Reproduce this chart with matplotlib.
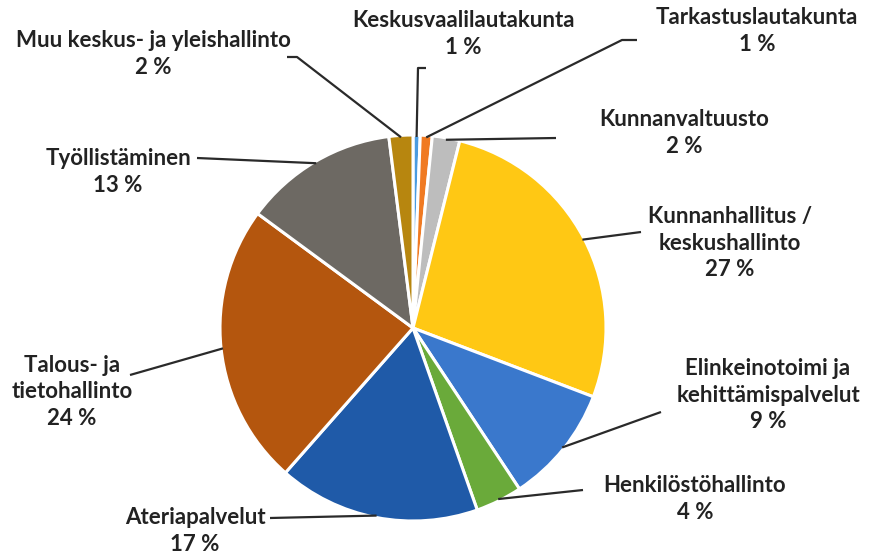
import matplotlib
matplotlib.use("Agg")
import numpy as np
import matplotlib.pyplot as plt

# shares, shown labels as printed
names = ["Keskusvaalilautakunta", "Tarkastuslautakunta", "Kunnanvaltuusto",
         "Kunnanhallitus /\nkeskushallinto", "Elinkeinotoimi ja\nkehittämispalvelut",
         "Henkilöstöhallinto", "Ateriapalvelut", "Talous- ja\ntietohallinto",
         "Työllistäminen", "Muu keskus- ja yleishallinto"]
shares = [0.6, 1.0, 2.3, 26.9, 9.9, 3.9, 16.9, 23.6, 12.9, 2.0]
shown_pct = [1, 1, 2, 27, 9, 4, 17, 24, 13, 2]
colors = ["#4a9be0", "#f07a22", "#bdbdbd", "#ffc814", "#3a78cc", "#6aaa3a",
          "#1f5aa8", "#b4560e", "#6d6963", "#b7860f"]

W, H = 881, 556
CX, CY, R = 413, 328, 193

# label centre (px) and leader path from text towards pie (px)
layout = [
    ((463, 34), [(426, 68), (418, 68)]),
    ((757, 31), [(637, 40), (622, 40)]),
    ((684, 133), [(556, 138)]),
    ((730, 243), [(641, 232)]),
    ((768, 395), [(661, 412)]),
    ((695, 499), [(583, 490)]),
    ((195, 531), [(270, 518)]),
    ((72, 392), [(130, 375)]),
    ((118, 172), [(197, 158)]),
    ((153, 54), [(287, 57), (297, 57)]),
]

fig = plt.figure(figsize=(W / 100, H / 100), dpi=100)
ax = fig.add_axes([0, 0, 1, 1])

wedges, _ = ax.pie(shares, colors=colors, startangle=90, counterclock=False,
                   center=(CX, H - CY), radius=R,
                   wedgeprops=dict(edgecolor="white", linewidth=2.2))
ax.set_xlim(0, W)
ax.set_ylim(0, H)
ax.set_aspect("equal")
ax.axis("off")

for w, name, pct, (tpos, path) in zip(wedges, names, shown_pct, layout):
    ang = np.deg2rad((w.theta1 + w.theta2) / 2)
    px = CX + R * 0.99 * np.cos(ang)
    py = H - CY + R * 0.99 * np.sin(ang)
    xs = [p[0] for p in path] + [px]
    ys = [H - p[1] for p in path] + [py]
    ax.plot(xs, ys, color="#2a2a2a", lw=1.6, solid_capstyle="butt")
    ax.text(tpos[0], H - tpos[1], f"{name}\n{pct} %", ha="center", va="center",
            fontsize=16, family="Lato", fontweight="bold", color="#222222",
            linespacing=1.3)

fig.savefig("out.png", dpi=100, facecolor="white")
